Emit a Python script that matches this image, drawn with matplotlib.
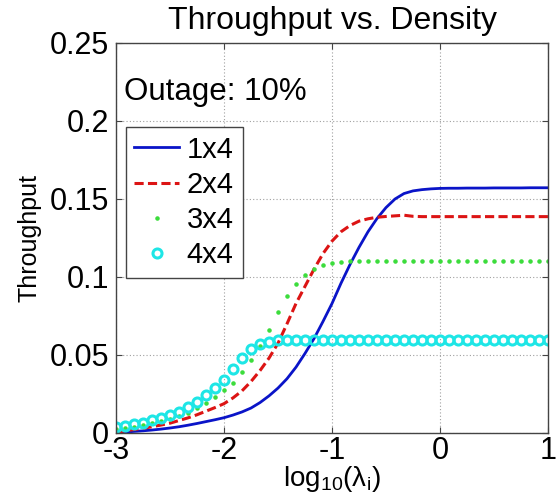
"""Throughput vs. Density for 1x4 .. 4x4 antenna setups at 10% outage."""

import matplotlib

matplotlib.use("Agg")
import matplotlib.pyplot as plt
import numpy as np

# x grid: log10(lambda_i) sampled every 1/12 from -3 to 1
log_lambda = np.linspace(-3, 1, 49)

tp_1x4 = [
    0.0003, 0.0006, 0.0010, 0.0014, 0.0019, 0.0025, 0.0032, 0.0040, 0.0050, 0.0061,
    0.0073, 0.0085, 0.0098, 0.0115, 0.0135, 0.0160, 0.0195, 0.0238, 0.0288, 0.0348,
    0.0422, 0.0510, 0.0605, 0.0715, 0.0830, 0.0960, 0.1080, 0.1190, 0.1290, 0.1375,
    0.1445, 0.1500, 0.1535, 0.1552, 0.1560, 0.1565, 0.1568, 0.1569, 0.1569, 0.1570,
    0.1570, 0.1570, 0.1571, 0.1571, 0.1571, 0.1571, 0.1572, 0.1572, 0.1572,
]
tp_2x4 = [
    0.0005, 0.0014, 0.0022, 0.0030, 0.0040, 0.0051, 0.0063, 0.0080, 0.0097, 0.0117,
    0.0140, 0.0163, 0.0188, 0.0225, 0.0270, 0.0330, 0.0400, 0.0480, 0.0575, 0.0700,
    0.0830, 0.0940, 0.1050, 0.1150, 0.1230, 0.1290, 0.1330, 0.1358, 0.1373, 0.1383,
    0.1388, 0.1392, 0.1396, 0.1389, 0.1387, 0.1387, 0.1387, 0.1387, 0.1387, 0.1387,
    0.1387, 0.1387, 0.1387, 0.1387, 0.1387, 0.1387, 0.1387, 0.1387, 0.1387,
]
tp_3x4 = [
    0.0024, 0.0031, 0.0040, 0.0050, 0.0062, 0.0075, 0.0090, 0.0108, 0.0130, 0.0158,
    0.0190, 0.0229, 0.0273, 0.0323, 0.0389, 0.0466, 0.0555, 0.0660, 0.0775, 0.0880,
    0.0958, 0.1015, 0.1053, 0.1075, 0.1088, 0.1096, 0.1100, 0.1102, 0.1103, 0.1103,
    0.1104, 0.1104, 0.1104, 0.1104, 0.1104, 0.1104, 0.1104, 0.1104, 0.1104, 0.1104,
    0.1104, 0.1104, 0.1104, 0.1104, 0.1104, 0.1104, 0.1104, 0.1104, 0.1104,
]
tp_4x4 = [
    0.0039, 0.0045, 0.0056, 0.0067, 0.0082, 0.0097, 0.0114, 0.0136, 0.0168, 0.0200,
    0.0244, 0.0291, 0.0341, 0.0409, 0.0478, 0.0539, 0.0571, 0.0584, 0.0593, 0.0595,
    0.0596, 0.0597, 0.0597, 0.0597, 0.0597, 0.0597, 0.0597, 0.0597, 0.0597, 0.0597,
    0.0597, 0.0597, 0.0597, 0.0597, 0.0597, 0.0597, 0.0597, 0.0597, 0.0597, 0.0597,
    0.0597, 0.0597, 0.0597, 0.0597, 0.0597, 0.0597, 0.0597, 0.0597, 0.0597,
]
labels = ["1x4", "2x4", "3x4", "4x4"]
x_ticks = [-3, -2, -1, 0, 1]
y_ticks = [0, 0.05, 0.1, 0.15, 0.2, 0.25]
y_ticklabels = ["0", "0.05", "0.1", "0.15", "0.2", "0.25"]

plt.rcParams["font.family"] = ["Liberation Sans", "DejaVu Sans"]
plt.rcParams["font.size"] = 22
plt.rcParams["axes.unicode_minus"] = False
plt.rcParams["mathtext.fontset"] = "custom"
plt.rcParams["mathtext.rm"] = "Liberation Sans"
plt.rcParams["mathtext.it"] = "Liberation Sans"

fig = plt.figure(figsize=(5.6, 4.96), dpi=100)
ax = fig.add_axes([116 / 560, 63 / 496, 432 / 560, 390 / 496])

ax.plot(log_lambda, tp_1x4, color="#0a14c8", lw=2.0, label=labels[0])
ax.plot(log_lambda, tp_2x4, color="#dc1414", lw=2.2, dashes=(3, 1.4), label=labels[1])
ax.plot(log_lambda, tp_3x4, ls="none", marker=".", ms=4.5, color="#3cdc3c", label=labels[2])
ax.plot(log_lambda, tp_4x4, ls="none", marker="o", ms=6.5, mfc="none", mew=2.2,
        mec="#1ee6e6", label=labels[3])

ax.set_xlim(-3, 1)
ax.set_ylim(0, 0.25)
ax.set_xticks(x_ticks)
ax.set_yticks(y_ticks)
ax.set_yticklabels(y_ticklabels)
ax.grid(True, color="#a0a0a0", lw=0.8, ls=(0, (1, 2)))
ax.tick_params(direction="in", length=4, top=True, right=True, color="#444444")
ax.tick_params(axis="x", pad=2)
ax.tick_params(axis="y", pad=5)
for s in ax.spines.values():
    s.set_color("#444444")
    s.set_linewidth(1.0)

ax.set_xlabel(r"$\mathregular{log_{10}(\lambda_i)}$", fontsize=20, labelpad=-1)
ax.set_ylabel("Throughput", fontsize=18, labelpad=6)
ax.set_title("Throughput vs. Density", fontsize=23, pad=10)
ax.text(-2.925, 0.2185, "Outage: 10%", va="center", ha="left", fontsize=22.5)

leg = ax.legend(loc="upper left", bbox_to_anchor=(0.022, 0.785), numpoints=1,
                fontsize=21, handlelength=1.55, labelspacing=0.25, borderpad=0.3,
                handletextpad=0.25, fancybox=False, framealpha=1, borderaxespad=0)
leg.get_frame().set_edgecolor("#444444")
leg.get_frame().set_linewidth(1.0)

fig.savefig("out.png", dpi=100)
